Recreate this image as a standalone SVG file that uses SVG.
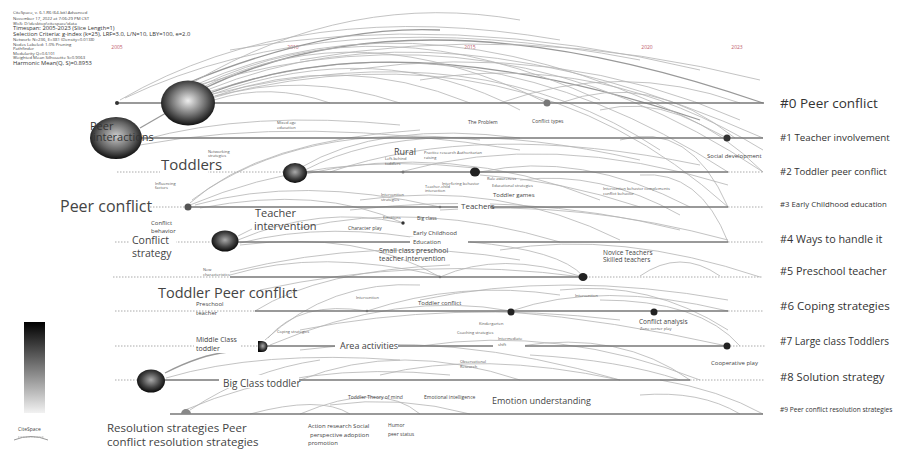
<svg xmlns="http://www.w3.org/2000/svg" width="919" height="450" viewBox="0 0 919 450">
<defs>
<radialGradient id="sph" cx="0.5" cy="0.45" r="0.55">
<stop offset="0" stop-color="#eeeeee"/>
<stop offset="0.55" stop-color="#777777"/>
<stop offset="1" stop-color="#111111"/>
</radialGradient>
<radialGradient id="sphm" cx="0.5" cy="0.45" r="0.55">
<stop offset="0" stop-color="#cccccc"/>
<stop offset="0.6" stop-color="#666666"/>
<stop offset="1" stop-color="#111111"/>
</radialGradient>
<radialGradient id="sphd" cx="0.5" cy="0.45" r="0.55">
<stop offset="0" stop-color="#aaaaaa"/>
<stop offset="0.6" stop-color="#444444"/>
<stop offset="1" stop-color="#0a0a0a"/>
</radialGradient>
<linearGradient id="leg" x1="0" y1="0" x2="0" y2="1">
<stop offset="0" stop-color="#000"/>
<stop offset="1" stop-color="#f2f2f2"/>
</linearGradient>
</defs>
<style>
text{font-family:"Open Sans","Noto Sans","DejaVu Sans",sans-serif;fill:#333}
.hd{font-size:4.3px;fill:#444}
.hb{font-size:5.8px;fill:#333}
.yr{font-size:5px;fill:#c05a6a}
.row{stroke:#777;stroke-width:1.6;fill:none}
.dot{stroke:#aaa;stroke-width:1;stroke-dasharray:1.5 1.5;fill:none}
.arc{stroke:#b4b4b4;stroke-width:0.8;fill:none}
.arcd{stroke:#999;stroke-width:1.3;fill:none}
.cl{fill:#333}
.t4{font-size:4px;fill:#555}
.t5{font-size:5px;fill:#444}
.t6{font-size:6px;fill:#444}
.bg{fill:#fff}
</style>
<rect width="919" height="450" fill="#fff"/>

<g id="header">
<text class="hd" x="13" y="14">CiteSpace, v. 6.1.R6 (64-bit) Advanced</text>
<text class="hd" x="13" y="19.5">November 17, 2022 at 7:06:29 PM CST</text>
<text class="hd" x="13" y="24.5">WoS: D:\desktop\citespace\data</text>
<text class="hb" x="13" y="30">Timespan: 2005-2023 (Slice Length=1)</text>
<text class="hb" x="13" y="36">Selection Criteria: g-index (k=25), LRF=3.0, L/N=10, LBY=100, e=2.0</text>
<text class="hd" x="13" y="41">Network: N=236, E=381 (Density=0.0138)</text>
<text class="hd" x="13" y="45.5">Nodes Labeled: 1.0% Pruning</text>
<text class="hd" x="13" y="50">Pathfinder</text>
<text class="hd" x="13" y="54.5">Modularity Q=0.6101</text>
<text class="hd" x="13" y="59">Weighted Mean Silhouette S=0.9063</text>
<text class="hb" x="13" y="65">Harmonic Mean(Q, S)=0.8953</text>
</g>

<g id="years">
<text class="yr" x="117" y="49" text-anchor="middle">2005</text>
<text class="yr" x="293" y="49" text-anchor="middle">2010</text>
<text class="yr" x="470" y="49" text-anchor="middle">2015</text>
<text class="yr" x="647" y="49" text-anchor="middle">2020</text>
<text class="yr" x="737" y="49" text-anchor="middle">2023</text>
</g>

<g id="connectors">
<path class="arc" d="M120,100 Q300,-5 560,40"/>
<path class="arc" d="M125,98 Q330,0 640,60"/>
<path class="arcd" d="M205,88 Q420,-15 763,103"/>
<path class="arc" d="M207,90 Q440,-5 763,138"/>
<path class="arc" d="M208,92 Q470,5 728,172"/>
<path class="arcd" d="M210,93 Q400,20 700,120"/>
<path class="arc" d="M200,86 Q380,0 600,100"/>
<path class="arc" d="M203,87 Q360,10 547,103"/>
<path class="arc" d="M210,95 Q380,35 520,110"/>
<path class="arc" d="M212,97 Q340,50 470,103"/>
<path class="arc" d="M212,98 Q300,70 400,103"/>
<path class="arc" d="M214,100 Q270,82 330,103"/>
<path class="arc" d="M195,85 Q430,-20 727,138"/>
<path class="arc" d="M198,85 Q500,-5 763,172"/>
<path class="arc" d="M215,96 Q520,20 728,207"/>
<path class="arc" d="M213,94 Q480,30 660,150"/>
<path class="arcd" d="M190,82 Q330,25 440,30"/>
<path class="arc" d="M192,83 Q350,-10 520,20"/>
<path class="arc" d="M230,50 Q450,10 700,70"/>
<path class="arc" d="M300,60 Q520,20 760,80"/>
<path class="arc" d="M350,70 Q560,40 740,120"/>
<path class="arc" d="M420,80 Q600,50 763,150"/>
<path class="arc" d="M500,103 Q620,60 740,103"/>
<path class="arc" d="M560,103 Q650,70 735,138"/>
<path class="arc" d="M600,110 Q680,90 763,172"/>
<path class="arc" d="M620,140 Q690,120 728,207"/>
<path class="arc" d="M640,175 Q700,170 728,242"/>
<path class="arcd" d="M140,128 L166,113"/>
<path class="arc" d="M142,140 Q250,110 400,125"/>
<path class="arc" d="M140,145 Q300,115 520,150"/>
<path class="arc" d="M190,203 Q260,140 420,130"/>
<path class="arc" d="M192,200 Q300,120 480,140"/>
<path class="arc" d="M190,205 Q320,150 475,168"/>
<path class="arc" d="M300,168 Q380,120 520,138"/>
<path class="arc" d="M305,170 Q420,110 640,160"/>
<path class="arc" d="M300,175 Q450,140 600,200"/>
<path class="arc" d="M330,172 Q480,120 700,165"/>
<path class="arc" d="M400,172 Q550,130 728,185"/>
<path class="arc" d="M480,172 Q580,150 690,207"/>
<path class="arc" d="M480,175 Q560,180 640,207"/>
<path class="arc" d="M520,180 Q600,170 680,215"/>
<path class="arc" d="M195,205 Q300,175 440,207"/>
<path class="arc" d="M200,208 Q320,185 403,223"/>
<path class="arc" d="M238,240 Q320,205 402,223"/>
<path class="arc" d="M238,236 L252,229"/>
<path class="arc" d="M240,243 Q330,220 440,242"/>
<path class="arc" d="M240,245 Q360,230 440,277"/>
<path class="arc" d="M300,228 Q420,200 560,242"/>
<path class="arc" d="M350,210 Q520,190 680,230"/>
<path class="arc" d="M360,200 Q500,180 620,240"/>
<path class="arc" d="M440,210 Q580,200 728,240"/>
<path class="arc" d="M500,250 Q620,230 760,277"/>
<path class="arc" d="M640,276 Q680,248 720,276"/>
<path class="arc" d="M470,242 Q560,250 583,276"/>
<path class="arc" d="M230,275 Q320,248 440,276"/>
<path class="arc" d="M230,272 Q380,235 520,260"/>
<path class="arc" d="M440,277 Q500,250 583,277"/>
<path class="arc" d="M260,290 Q420,255 583,277"/>
<path class="arc" d="M255,311 Q320,270 450,265"/>
<path class="arc" d="M265,340 Q330,280 420,285"/>
<path class="arc" d="M268,338 Q300,300 367,311"/>
<path class="arc" d="M270,345 Q400,290 511,311"/>
<path class="arc" d="M367,311 Q460,280 560,295"/>
<path class="arc" d="M420,300 Q560,270 728,300"/>
<path class="arc" d="M511,311 Q600,280 728,311"/>
<path class="arc" d="M560,290 Q650,280 728,330"/>
<path class="arc" d="M600,300 Q700,300 740,346"/>
<path class="arc" d="M511,312 Q610,320 727,346"/>
<path class="arc" d="M300,330 Q450,300 620,320"/>
<path class="arc" d="M300,350 Q450,330 620,380"/>
<path class="arc" d="M420,346 Q560,325 700,380"/>
<path class="arc" d="M520,346 Q620,330 690,380"/>
<path class="arc" d="M530,355 Q620,360 680,380"/>
<path class="arcd" d="M165,373 Q200,355 228,352"/>
<path class="arc" d="M166,378 Q260,350 400,360"/>
<path class="arc" d="M300,380 Q400,340 520,380"/>
<path class="arc" d="M380,375 Q480,350 620,380"/>
<path class="arc" d="M190,410 Q250,370 320,360"/>
<path class="arc" d="M185,410 Q300,360 450,375"/>
<path class="arc" d="M250,414 Q320,395 350,414"/>
<path class="arc" d="M300,414 Q380,380 420,414"/>
<path class="arc" d="M330,405 Q400,395 470,414"/>
<path class="arc" d="M640,395 Q700,390 740,414"/>
<path class="arc" d="M660,380 Q720,390 763,414"/>
</g>

<g id="rows">
<line class="row" x1="117" y1="103" x2="764" y2="103"/>
<line class="row" x1="142" y1="138" x2="763" y2="138"/>
<line class="dot" x1="117" y1="172" x2="283" y2="172"/>
<line class="row" x1="295" y1="172" x2="728" y2="172"/>
<line class="dot" x1="728" y1="172" x2="763" y2="172"/>
<line class="dot" x1="117" y1="207" x2="185" y2="207"/>
<line class="row" x1="188" y1="207" x2="728" y2="207"/>
<line class="dot" x1="728" y1="207" x2="763" y2="207"/>
<line class="dot" x1="115" y1="242" x2="211" y2="242"/>
<line class="row" x1="225" y1="242" x2="728" y2="242"/>
<line class="dot" x1="728" y1="242" x2="763" y2="242"/>
<line class="dot" x1="113" y1="277" x2="230" y2="277"/>
<line class="row" x1="230" y1="277" x2="583" y2="277"/>
<line class="dot" x1="583" y1="277" x2="763" y2="277"/>
<line class="dot" x1="115" y1="311" x2="255" y2="311"/>
<line class="row" x1="255" y1="311" x2="728" y2="311"/>
<line class="dot" x1="728" y1="311" x2="763" y2="311"/>
<line class="dot" x1="115" y1="346" x2="258" y2="346"/>
<line class="row" x1="262" y1="346" x2="727" y2="346"/>
<line class="dot" x1="727" y1="346" x2="765" y2="346"/>
<line class="dot" x1="115" y1="380" x2="138" y2="380"/>
<line class="row" x1="165" y1="380" x2="690" y2="380"/>
<line class="dot" x1="690" y1="380" x2="765" y2="380"/>
<line class="row" x1="170" y1="414" x2="763" y2="414"/>
</g>

<g id="legend">
<rect x="24" y="322" width="21" height="91" fill="url(#leg)"/>
<text x="18" y="431" style="font-size:5px;fill:#444">CiteSpace</text>
<path d="M14,440 Q31,433 48,440" stroke="#999" stroke-width="1" fill="none"/>
<line x1="18" y1="437" x2="44" y2="437" stroke="#999" stroke-width="0.8" stroke-dasharray="1 0.6"/>
</g>

<g id="c0">
<circle cx="117" cy="103" r="2" class="cl"/>
<ellipse cx="188" cy="103" rx="27" ry="22.5" fill="url(#sph)"/>
<circle cx="547" cy="103" r="3.5" fill="#777"/>
<text x="780" y="108" style="font-size:13.5px;fill:#333">#0 Peer conflict</text>
</g>
<g id="c1">
<ellipse cx="116" cy="138" rx="26" ry="21" fill="url(#sphm)"/>
<text x="90" y="130" style="font-size:11px;fill:#333">Peer</text>
<text x="93" y="141" style="font-size:11px;fill:#333">interactions</text>
<circle cx="727" cy="138" r="3.5" class="cl"/>
<text class="t4" x="277" y="124">Mixed age</text>
<text class="t4" x="277" y="129">education</text>
<text class="t5" x="468" y="124">The Problem</text>
<text class="t5" x="532" y="123">Conflict types</text>
<text class="t6" x="707" y="158">Social development</text>
<text x="780" y="141" style="font-size:9.8px;fill:#333">#1 Teacher involvement</text>
</g>
<g id="c2">
<rect class="bg" x="160" y="159" width="48" height="15"/>
<text x="161" y="170" style="font-size:15px;fill:#444">Toddlers</text>
<text class="t4" x="208" y="153">Networking</text>
<text class="t4" x="208" y="157">strategies</text>
<text x="394" y="155" style="font-size:9px;fill:#444">Rural</text>
<text class="t4" x="385" y="160">Left-behind</text>
<text class="t4" x="385" y="165">toddlers</text>
<text class="t4" x="424" y="154">Practice research Authoritarian</text>
<text class="t4" x="424" y="159">raising</text>
<ellipse cx="295" cy="173" rx="12" ry="10" fill="url(#sphd)"/>
<circle cx="403" cy="172" r="1.5" fill="#777"/>
<ellipse cx="475" cy="172" rx="5" ry="4.5" fill="#222"/>
<text class="t4" x="487" y="180">Rule awareness</text>
<text x="780" y="175" style="font-size:9.6px;fill:#333">#2 Toddler peer conflict</text>
</g>
<g id="c3">
<text class="t4" x="155" y="185">Influencing</text>
<text class="t4" x="155" y="189">factors</text>
<rect class="bg" x="58" y="197" width="92" height="17"/>
<text x="60" y="212" style="font-size:16px;fill:#444">Peer conflict</text>
<circle cx="188" cy="207" r="3.5" fill="#555"/>
<text class="t4" x="442" y="185">Interfering behavior</text>
<text class="t4" x="492" y="187">Educational strategies</text>
<text class="t4" x="425" y="188">Teacher-child</text>
<text class="t4" x="425" y="192">interaction</text>
<text class="t6" x="493" y="197">Toddler games</text>
<text class="t4" x="381" y="196">Intervention</text>
<text class="t4" x="381" y="201">strategies</text>
<text class="t4" x="603" y="190">Intervention behavior complements</text>
<text class="t4" x="603" y="195">conflict behavior</text>
<circle cx="440" cy="207" r="1.3" fill="#777"/>
<rect class="bg" x="458" y="200" width="32" height="10"/>
<text x="461" y="209" style="font-size:8px;fill:#444">Teachers</text>
<text x="780" y="207" style="font-size:7.8px;fill:#333">#3 Early Childhood education</text>
</g>
<g id="c4">
<text class="t6" x="151" y="225">Conflict</text>
<text class="t6" x="151" y="233">behavior</text>
<rect class="bg" x="130" y="235" width="46" height="23"/>
<text x="132" y="244" style="font-size:10.5px;fill:#444">Conflict</text>
<text x="132" y="257" style="font-size:10.5px;fill:#444">strategy</text>
<text x="255" y="217" style="font-size:11px;fill:#444">Teacher</text>
<text x="254" y="230" style="font-size:11px;fill:#444">intervention</text>
<ellipse cx="225" cy="241" rx="13.5" ry="10.5" fill="url(#sphd)"/>
<text class="t4" x="383" y="219">Emotions</text>
<circle cx="403" cy="223" r="1.7" fill="#333"/>
<text class="t5" x="417" y="220">Big class</text>
<text class="t5" x="348" y="230">Character play</text>
<rect class="bg" x="410" y="237" width="58" height="8"/>
<text class="t6" x="413" y="235">Early Childhood</text>
<text class="t6" x="413" y="243.5">Education</text>
<text x="780" y="243" style="font-size:10.8px;fill:#333">#4 Ways to handle it</text>
</g>
<g id="c5">
<text class="t4" x="203" y="271">New</text>
<text class="t4" x="203" y="276">characteristics</text>
<text x="379" y="253" style="font-size:7px;fill:#444">Small class preschool</text>
<text x="379" y="261" style="font-size:7px;fill:#444">teacher intervention</text>
<text x="603" y="255" style="font-size:6.5px;fill:#444">Novice Teachers</text>
<text x="603" y="262" style="font-size:6.5px;fill:#444">Skilled teachers</text>
<circle cx="440" cy="277" r="1.3" fill="#777"/>
<ellipse cx="583" cy="277" rx="4.5" ry="4" fill="#222"/>
<text x="780" y="275" style="font-size:10.8px;fill:#333">#5 Preschool teacher</text>
</g>
<g id="c6">
<text x="158" y="298" style="font-size:14.5px;fill:#444">Toddler Peer conflict</text>
<text class="t6" x="196" y="306">Preschool</text>
<text class="t6" x="196" y="315">teacher</text>
<text class="t4" x="356" y="299">Intervention</text>
<text class="t6" x="418" y="305">Toddler conflict</text>
<text class="t4" x="575" y="297">Intervention</text>
<circle cx="367" cy="311" r="1.3" fill="#777"/>
<circle cx="511" cy="312" r="3.5" fill="#222"/>
<circle cx="654" cy="312" r="3.5" fill="#222"/>
<text x="639" y="324" style="font-size:6.5px;fill:#444">Conflict analysis</text>
<text class="t4" x="640" y="330">Zone corner play</text>
<text x="780" y="310" style="font-size:11.5px;fill:#333">#6 Coping strategies</text>
</g>
<g id="c7">
<rect class="bg" x="194" y="336" width="46" height="17"/>
<text x="196" y="342" style="font-size:7px;fill:#444">Middle Class</text>
<text x="196" y="351" style="font-size:7px;fill:#444">toddler</text>
<text class="t4" x="277" y="333">Coping strategies</text>
<path d="M262,341 A5.5,5.5 0 0 1 262,352 L258,352 L258,341 Z" fill="url(#sphd)"/>
<text class="t4" x="479" y="325">Kindergarten</text>
<text class="t4" x="457" y="334">Coaching strategies</text>
<rect class="bg" x="335" y="341" width="63" height="10"/>
<text x="340" y="349" style="font-size:9px;fill:#444">Area activities</text>
<rect class="bg" x="493" y="343" width="32" height="6"/>
<text class="t4" x="498" y="340">Intermediate</text>
<text class="t4" x="498" y="346">shift</text>
<circle cx="727" cy="346" r="3.5" fill="#222"/>
<text class="t6" x="711" y="365">Cooperative play</text>
<text x="780" y="345" style="font-size:10px;fill:#333">#7 Large class Toddlers</text>
</g>
<g id="c8">
<ellipse cx="151" cy="381" rx="14" ry="11.5" fill="url(#sphd)"/>
<rect class="bg" x="219" y="375" width="80" height="13"/>
<text x="223" y="387" style="font-size:10px;fill:#444">Big Class toddler</text>
<text class="t4" x="460" y="363">Observational</text>
<text class="t4" x="460" y="368">Research</text>
<text x="780" y="381" style="font-size:11.2px;fill:#333">#8 Solution strategy</text>
</g>
<g id="c9">
<path d="M181,414 A5,5 0 0 1 191,414 Z" fill="#888"/>
<text class="t5" x="348" y="399">Toddler Theory of mind</text>
<text class="t5" x="424" y="399">Emotional intelligence</text>
<text x="492" y="404" style="font-size:9px;fill:#444">Emotion understanding</text>
<text class="t6" x="308" y="428">Action research Social</text>
<text class="t6" x="310" y="436.5">perspective adoption</text>
<text class="t6" x="308" y="445">promotion</text>
<text class="t5" x="388" y="427">Humor</text>
<text class="t5" x="388" y="436">peer status</text>
<text x="107" y="432" style="font-size:11.5px;fill:#444">Resolution strategies Peer</text>
<text x="107" y="446" style="font-size:11.5px;fill:#444">conflict resolution strategies</text>
<text x="780" y="412" style="font-size:6.6px;fill:#333">#9 Peer conflict resolution strategies</text>
</g>
</svg>
